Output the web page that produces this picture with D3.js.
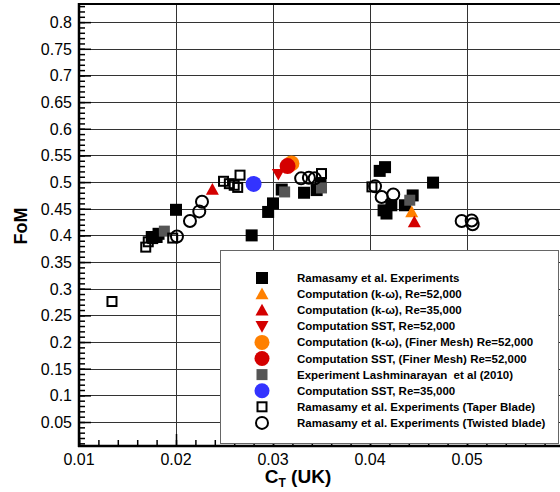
<!DOCTYPE html>
<html>
<head>
<meta charset="utf-8">
<script src="https://cdn.jsdelivr.net/npm/d3@7"></script>
<style>
  body { margin: 0; background: #fff; }
  svg { display: block; font-family: "Liberation Sans", Arial, sans-serif; }
</style>
</head>
<body>
<svg id="chart" width="560" height="492"></svg>
<script>
// Series values [CT, FoM]
const ramasamyExp = [
  [0.0200, 0.448], [0.0278, 0.400], [0.0295, 0.444], [0.0300, 0.460],
  [0.0309, 0.486], [0.0332, 0.480], [0.0345, 0.485], [0.0349, 0.497],
  [0.0175, 0.397], [0.0180, 0.397], [0.0182, 0.403],
  [0.0410, 0.521], [0.04155, 0.528], [0.0414, 0.447], [0.0417, 0.441],
  [0.0422, 0.4565], [0.0436, 0.4565], [0.0444, 0.475], [0.0465, 0.499]
];
const kwRe52 = [[0.0443, 0.444]];
const kwRe35 = [[0.02375, 0.486], [0.04457, 0.425]];
const sstRe52 = [[0.03055, 0.515]];
const kwFine52 = [[0.0319, 0.535]];
const sstFine52 = [[0.0315, 0.530]];
const lashmi = [[0.0188, 0.408], [0.0312, 0.4815], [0.0350, 0.489], [0.0441, 0.466]];
const sstRe35 = [[0.0280, 0.4966]];
const taperBlade = [
  [0.0134, 0.276], [0.01688, 0.378], [0.01714, 0.388], [0.0176, 0.394],
  [0.01966, 0.395], [0.0249, 0.5015], [0.0255, 0.497], [0.0260, 0.494],
  [0.0266, 0.513], [0.02636, 0.490], [0.0350, 0.516], [0.0402, 0.491]
];
const twistedBlade = [
  [0.0201, 0.398], [0.02144, 0.427], [0.0224, 0.445], [0.02268, 0.463],
  [0.0329, 0.507], [0.0337, 0.508], [0.0343, 0.507],
  [0.04052, 0.492], [0.0412, 0.472], [0.0424, 0.4766],
  [0.04945, 0.427], [0.05048, 0.428], [0.05058, 0.421]
];

const xMajor = [0.01, 0.02, 0.03, 0.04, 0.05, 0.06];
const xLabels = ["0.01", "0.02", "0.03", "0.04", "0.05"];
const yMajor = [0.05, 0.1, 0.15, 0.2, 0.25, 0.3, 0.35, 0.4, 0.45, 0.5, 0.55, 0.6, 0.65, 0.7, 0.75, 0.8];

const seriesList = [
  { name: "Ramasamy et al. Experiments", data: ramasamyExp, shape: "square", fill: "#000", size: 12 },
  { name: "Computation (k-\u03c9), Re=52,000", data: kwRe52, shape: "triangle", fill: "#ff8000", size: 13 },
  { name: "Computation (k-\u03c9), Re=35,000", data: kwRe35, shape: "triangle", fill: "#d40000", size: 13 },
  { name: "Computation SST, Re=52,000", data: sstRe52, shape: "down", fill: "#d40000", size: 13 },
  { name: "Computation (k-\u03c9), (Finer Mesh) Re=52,000", data: kwFine52, shape: "circle", fill: "#ff8000", size: 16 },
  { name: "Computation SST, (Finer Mesh) Re=52,000", data: sstFine52, shape: "circle", fill: "#d40000", size: 16 },
  { name: "Experiment Lashminarayan  et al (2010)", data: lashmi, shape: "square", fill: "#555", size: 11 },
  { name: "Computation SST, Re=35,000", data: sstRe35, shape: "circle", fill: "#3333ff", size: 16 },
  { name: "Ramasamy et al. Experiments (Taper Blade)", data: taperBlade, shape: "square", fill: "none", size: 9 },
  { name: "Ramasamy et al. Experiments (Twisted blade)", data: twistedBlade, shape: "circle", fill: "none", size: 12 }
];

const svg = d3.select("#chart");
const x = d3.scaleLinear().domain([0.01, 0.06]).range([79, 564]);
const y = d3.scaleLinear().domain([0.005, 0.834]).range([446, 4]);

// grid
const grid = svg.append("g");
grid.selectAll(".gx").data(xMajor.slice(1)).enter().append("line")
  .attr("x1", d => Math.round(x(d)) + 0.5).attr("x2", d => Math.round(x(d)) + 0.5)
  .attr("y1", y.range()[1]).attr("y2", y.range()[0])
  .attr("stroke", "#333").attr("stroke-width", 1);
grid.selectAll(".gy").data(yMajor).enter().append("line")
  .attr("x1", 79).attr("x2", 564)
  .attr("y1", d => Math.round(y(d)) + 0.5).attr("y2", d => Math.round(y(d)) + 0.5)
  .attr("stroke", "#333").attr("stroke-width", 1);

// axes with inward ticks
const yAxis = d3.axisRight(y).tickValues(yMajor).tickSize(12).tickFormat("");
const yMinor = d3.axisRight(y).tickValues(d3.range(1, 84).map(i => i / 100)).tickSize(6).tickFormat("");
const xAxis = d3.axisTop(x).tickValues(xMajor).tickSize(12).tickFormat("");
const xMinor = d3.axisTop(x).tickValues(d3.range(5, 31).map(i => i / 500)).tickSize(6).tickFormat("");

[yAxis, yMinor].forEach(a => {
  const g = svg.append("g").attr("transform", "translate(79,0)").call(a);
  g.select(".domain").remove();
  g.selectAll("line").attr("stroke", "#000").attr("stroke-width", 1.5);
});
[xAxis, xMinor].forEach(a => {
  const g = svg.append("g").attr("transform", "translate(0,446)").call(a);
  g.select(".domain").remove();
  g.selectAll("line").attr("stroke", "#000").attr("stroke-width", 1.5);
});

// frame
svg.append("line").attr("x1", 79).attr("x2", 79).attr("y1", 3).attr("y2", 447)
  .attr("stroke", "#000").attr("stroke-width", 2.5);
svg.append("line").attr("x1", 78).attr("x2", 564).attr("y1", 446).attr("y2", 446)
  .attr("stroke", "#000").attr("stroke-width", 2.5);
svg.append("line").attr("x1", 78).attr("x2", 564).attr("y1", 4).attr("y2", 4)
  .attr("stroke", "#000").attr("stroke-width", 2);

// tick labels
svg.append("g").selectAll("text").data(yMajor).enter().append("text")
  .attr("x", 72).attr("y", d => y(d) + 6)
  .attr("text-anchor", "end").style("font-size", "16px")
  .text(d => d3.format("")(+d.toFixed(2)));
svg.append("g").selectAll("text").data(xLabels).enter().append("text")
  .attr("x", d => x(+d)).attr("y", 465)
  .attr("text-anchor", "middle").style("font-size", "16px")
  .text(d => d);

// axis titles
const xt = svg.append("text").attr("x", 298).attr("y", 483)
  .attr("text-anchor", "middle").style("font-size", "19px").style("font-weight", "bold")
  .style("white-space", "pre");
xt.append("tspan").text("C");
xt.append("tspan").attr("dy", 4).style("font-size", "12px").text("T");
xt.append("tspan").attr("dy", -4).text(" (UK)");
svg.append("text").attr("transform", "translate(27,226) rotate(-90)")
  .attr("text-anchor", "middle").style("font-size", "18px").style("font-weight", "bold")
  .text("FoM");

// symbol drawing
function drawSymbol(sel, s) {
  const h = s.size / 2;
  const stroke = s.fill === "none" ? "#000" : "none";
  const sw = s.fill === "none" ? 2 : 0;
  if (s.shape === "square") {
    sel.append("rect").attr("x", -h).attr("y", -h).attr("width", s.size).attr("height", s.size)
      .attr("fill", s.fill).attr("stroke", stroke).attr("stroke-width", sw);
  } else if (s.shape === "circle") {
    sel.append("circle").attr("r", h).attr("fill", s.fill).attr("stroke", stroke).attr("stroke-width", sw);
  } else if (s.shape === "triangle") {
    sel.append("path").attr("d", `M0,${-h}L${h},${h * 0.8}L${-h},${h * 0.8}Z`).attr("fill", s.fill);
  } else {
    sel.append("path").attr("d", `M0,${h}L${h},${-h * 0.8}L${-h},${-h * 0.8}Z`).attr("fill", s.fill);
  }
}

// data points
const plot = svg.append("g");
seriesList.forEach(s => {
  plot.selectAll(null).data(s.data).enter().append("g")
    .attr("transform", d => `translate(${x(d[0])},${y(d[1])})`)
    .each(function () { drawSymbol(d3.select(this), s); });
});

// legend
const legend = svg.append("g");
legend.append("rect").attr("x", 220.5).attr("y", 250.5).attr("width", 338).attr("height", 193)
  .attr("fill", "#fff").attr("stroke", "#666").attr("stroke-width", 1);
seriesList.forEach((s, i) => {
  const ly = 278 + i * 16.1;
  const ls = Object.assign({}, s, { size: s.shape === "circle" && s.fill !== "none" ? 15 : s.size });
  const g = legend.append("g").attr("transform", `translate(262,${ly})`);
  drawSymbol(g, ls);
  legend.append("text").attr("x", 297).attr("y", ly + 4)
    .style("font-size", "11.5px").style("font-weight", "bold").style("white-space", "pre")
    .text(s.name);
});
</script>
</body>
</html>
